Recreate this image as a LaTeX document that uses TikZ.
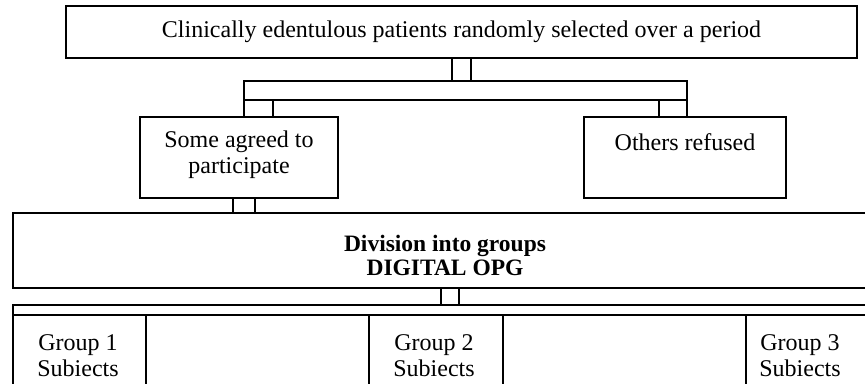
\documentclass[tikz,border=0pt]{standalone}
\usepackage{fontspec}
\setmainfont{Liberation Serif}
\usetikzlibrary{calc}
\begin{document}
\begin{tikzpicture}[x=1pt,y=-1pt, line width=2pt,
  box/.style={draw, rectangle, inner sep=0pt, outer sep=0pt},
  lbl/.style={font=\fontsize{24}{26}\selectfont, align=center, inner sep=0pt}]
\useasboundingbox (0,0) rectangle (865,383);
\begin{scope}
\clip (-1,-1) rectangle (866,384);
% boxes
\node[box, minimum width=791pt, minimum height=52pt] (top) at (461.5,32) {};
\node[box, minimum width=443pt, minimum height=19pt] (bar) at (465.5,90.5) {};
\node[box, minimum width=198pt, minimum height=81pt] (lbox) at (239,157.5) {};
\node[box, minimum width=202pt, minimum height=81pt] (rbox) at (685,157.5) {};
\node[box, minimum width=864pt, minimum height=75pt] (div) at (445,250.5) {};
\node[box, minimum width=867pt, minimum height=115pt] (bot) at (446.5,362.5) {};
\node[box, minimum width=133pt, minimum height=105pt] (g1) at (79.5,367.5) {};
\node[box, minimum width=134pt, minimum height=105pt] (g2) at (436,367.5) {};
\node[box, minimum width=134pt, minimum height=105pt] (g3) at (813,367.5) {};
% connectors
\draw (top.south -| 452,0) rectangle (bar.north -| 471,0);
\draw (bar.south -| 244,0) rectangle (lbox.north -| 273,0);
\draw (bar.south -| 659,0) rectangle (rbox.north -| 687,0);
\draw (lbox.south -| 233,0) rectangle (div.north -| 255,0);
\draw (div.south -| 441,0) rectangle (bot.north -| 459,0);
\draw ($(bot.north west)+(0,10)$) -- ($(bot.north east)+(0,10)$);
% texts
\node[lbl] (ttop) at (461.5,32) {Clinically edentulous patients randomly selected over a period};
\node[lbl] (tl) at (239,155) {Some agreed to\\participate};
\node[lbl] (tr) at (685,142) {Others refused};
\node[lbl, font=\fontsize{23.5}{24}\selectfont\bfseries] (tdiv) at (445,255) {Division into groups\\DIGITAL OPG};
\node[lbl] (tg1) at (78,356) {Group 1\\Subiects};
\node[lbl] (tg2) at (434,356) {Group 2\\Subiects};
\node[lbl] (tg3) at (800,356) {Group 3\\Subiects};
\end{scope}
\end{tikzpicture}
\end{document}
